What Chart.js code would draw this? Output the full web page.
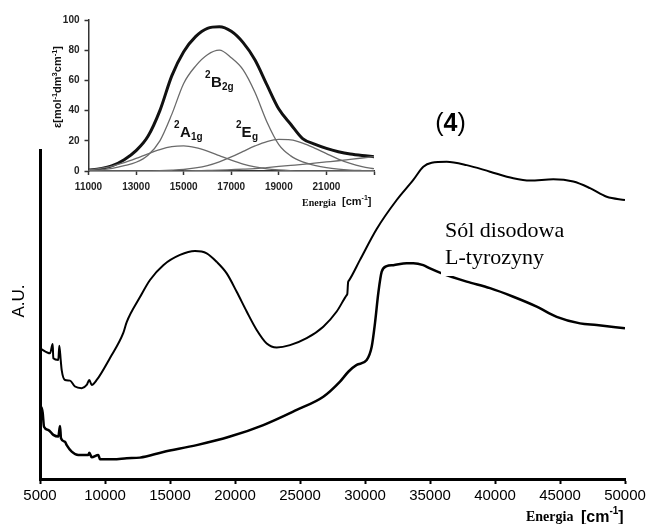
<!DOCTYPE html>
<html><head><meta charset="utf-8">
<script src="https://cdn.jsdelivr.net/npm/chart.js@4.4.1/dist/chart.umd.min.js"></script>
<style>
html,body{margin:0;padding:0;background:#fff;}
#wrap{position:relative;width:649px;height:524px;background:#fff;}
canvas{position:absolute;left:0;top:0;}
</style></head><body>
<div id="wrap"><canvas id="main" width="649" height="524"></canvas><canvas id="inset" width="649" height="524"></canvas></div>
<script>
// ---- main spectrum data (energy in cm-1, arbitrary units) ----
const upperE = [5000, 5769, 5977, 6023, 6408, 6485, 6592, 6669, 6923, 7308, 7692, 8208, 8592, 8792, 8977, 9362, 10385, 11408, 11669, 12692, 13462, 14485, 15769, 16923, 17823, 18592, 19362, 20131, 20900, 21669, 22438, 23208, 24231, 25515, 26792, 27823, 28592, 28640, 28700, 28760, 29615, 30900, 32438, 33715, 34485, 35131, 36285, 37823, 39615, 41408, 42692, 44485, 46023, 47308, 48592, 50000];
const upperV = [39.7, 38.2, 41.0, 36.7, 36.2, 40.5, 36.2, 33.1, 30.1, 29.9, 28.1, 27.6, 28.6, 30.1, 28.6, 30.1, 36.8, 44.4, 47.7, 55.3, 60.5, 65.0, 68.1, 69.3, 68.6, 66.0, 62.5, 56.9, 50.9, 45.3, 41.2, 40.0, 40.7, 42.8, 46.3, 50.9, 55.9, 56.3, 59.8, 60.3, 66.6, 76.0, 84.8, 90.9, 94.9, 96.1, 96.4, 95.4, 93.4, 91.4, 90.7, 91.1, 90.4, 88.4, 85.8, 84.8];
const lowerE = [5000, 5131, 5208, 5308, 5641, 6023, 6408, 6538, 6615, 6923, 7054, 7438, 7946, 8715, 8792, 8977, 9485, 9615, 10638, 11669, 12692, 14485, 17054, 19615, 22177, 24746, 26792, 28077, 28718, 29362, 30131, 30515, 30769, 31023, 31285, 31669, 32177, 33208, 33715, 34485, 35000, 35900, 37823, 39615, 41408, 43208, 44746, 46538, 47823, 50000];
const lowerV = [22.2, 21.5, 20.1, 15.9, 14.9, 13.4, 12.9, 16.1, 12.4, 11.3, 10.3, 8.3, 7.3, 7.3, 8.0, 6.6, 7.3, 6.0, 6.0, 6.3, 6.5, 8.2, 10.3, 12.9, 16.4, 21.0, 25.0, 29.6, 32.6, 34.7, 36.2, 40.2, 47.4, 56.5, 63.0, 64.7, 65.0, 65.6, 65.6, 65.0, 64.0, 62.5, 60.0, 58.0, 55.4, 52.4, 49.3, 47.3, 46.8, 45.8];
const mainTicks = [5000, 10000, 15000, 20000, 25000, 30000, 35000, 40000, 45000, 50000];

// ---- inset data (epsilon vs energy) ----
const insetE = [11000, 11500, 12000, 12500, 13000, 13500, 14000, 14500, 15000, 15500, 16000, 16500, 17000, 17500, 18000, 18500, 19000, 19500, 20000, 20500, 21000, 21500, 22000, 22500, 23000];
const totalEps = [0.5, 1.5, 3.5, 7.5, 13.5, 23, 40, 63, 79, 89, 94.5, 95.5, 92.5, 85, 73.5, 57, 41, 31, 21.5, 17.8, 15, 12.8, 11.2, 10.2, 9.5];
const a1gEps = [0.6, 1.8, 3.3, 5.5, 8.3, 11.4, 14.2, 16.1, 16.6, 15.5, 13.2, 10.2, 7.2, 4.6, 2.7, 1.4, 0.7, 0.3, 0.1, 0, 0, 0, 0, 0, 0];
const b2gEps = [0.3, 0.8, 1.8, 3.5, 5.8, 10.5, 20, 37.5, 58, 69.5, 77, 80, 75, 67, 52, 32.5, 17.5, 10, 6, 3.8, 2.2, 1.2, 0.6, 0.3, 0.1];
const egEps = [0, 0, 0, 0, 0, 0.1, 0.2, 0.5, 1.0, 2.0, 3.6, 6.1, 9.3, 13.0, 16.6, 19.5, 20.9, 20.6, 18.5, 15.2, 11.5, 7.9, 5.0, 2.9, 1.5];
const baseEps = [null, null, null, null, null, null, null, null, 0, 0.2, 0.4, 0.6, 0.9, 1.2, 1.6, 2.3, 3.0, 3.7, 4.4, 5.2, 6.0, 6.8, 7.7, 8.6, 9.5];
const insetXTicks = [11000, 13000, 15000, 17000, 19000, 21000, 23000];
const insetYTicks = [0, 20, 40, 60, 80, 100];

const SANS = '"Liberation Sans", Arial, sans-serif';
const SERIF = '"Liberation Serif", "Times New Roman", serif';

function pts(xs, ys) { return xs.map((x, i) => ({x: x, y: ys[i]})); }
function seq(ctx, parts, x, y) {
  let cx = x;
  for (const p of parts) {
    ctx.font = p.f;
    ctx.fillText(p.t, cx, y + (p.dy || 0));
    cx += ctx.measureText(p.t).width;
  }
  return cx;
}
function seqWidth(ctx, parts) {
  let w = 0;
  for (const p of parts) { ctx.font = p.f; w += ctx.measureText(p.t).width; }
  return w;
}

const mainText = {
  id: 'mainText',
  afterDatasetsDraw(chart) {
    const ctx = chart.ctx;
    ctx.save();
    // white box behind the sample label
    ctx.fillStyle = '#fff';
    ctx.fillRect(441, 214, 140, 62);
    ctx.fillStyle = '#000';
    ctx.textBaseline = 'alphabetic';
    ctx.textAlign = 'left';
    ctx.font = '22px ' + SERIF;
    ctx.fillText('Sól disodowa', 445, 237);
    ctx.fillText('L-tyrozyny', 445, 264);
    // (4)
    const p4 = [{t: '(', f: '25px ' + SANS}, {t: '4', f: 'bold 25px ' + SANS}, {t: ')', f: '25px ' + SANS}];
    const w4 = seqWidth(ctx, p4);
    seq(ctx, p4, 450.5 - w4 / 2, 131);
    // A.U.
    ctx.save();
    ctx.translate(19, 301);
    ctx.rotate(-Math.PI / 2);
    ctx.font = '17px ' + SANS;
    ctx.textAlign = 'center';
    ctx.textBaseline = 'middle';
    ctx.fillText('A.U.', 0, 0);
    ctx.restore();
    // Energia [cm-1]
    ctx.font = 'bold 14px ' + SERIF;
    ctx.fillText('Energia', 526, 521);
    seq(ctx, [{t: '[cm', f: 'bold 16px ' + SANS}, {t: '-1', f: 'bold 10px ' + SANS, dy: -8}, {t: ']', f: 'bold 16px ' + SANS}], 581, 522);
    ctx.restore();
  }
};

new Chart(document.getElementById('main'), {
  type: 'scatter',
  data: {
    datasets: [
      {data: pts(upperE, upperV), showLine: true, borderColor: '#000', borderWidth: 2, pointRadius: 0, cubicInterpolationMode: 'monotone'},
      {data: pts(lowerE, lowerV), showLine: true, borderColor: '#000', borderWidth: 2.5, pointRadius: 0, cubicInterpolationMode: 'monotone'}
    ]
  },
  options: {
    responsive: false, animation: false, events: [],
    plugins: {legend: {display: false}, tooltip: {enabled: false}},
    layout: {padding: {left: 0, right: 24, top: 150, bottom: 0}},
    scales: {
      x: {
        type: 'linear', min: 5000, max: 50000,
        afterBuildTicks(s) { s.ticks = mainTicks.map(v => ({value: v})); },
        ticks: {color: '#000', font: {family: SANS, size: 15}, padding: 3, maxRotation: 0, autoSkip: false, callback: v => String(v)},
        grid: {display: true, drawOnChartArea: false, drawTicks: true, tickLength: 5, tickColor: '#000', tickWidth: 2},
        border: {display: true, color: '#000', width: 3},
        afterFit(s) { s.height = 45; s.paddingLeft = 0; s.paddingRight = 0; }
      },
      y: {
        type: 'linear', min: 0, max: 100,
        ticks: {display: false},
        grid: {display: false},
        border: {display: true, color: '#000', width: 3},
        afterFit(s) { s.width = 40; s.paddingTop = 0; s.paddingBottom = 0; }
      }
    }
  },
  plugins: [mainText]
});

const insetText = {
  id: 'insetText',
  afterDraw(chart) {
    const ctx = chart.ctx;
    ctx.save();
    ctx.fillStyle = '#111';
    ctx.textAlign = 'left';
    ctx.textBaseline = 'alphabetic';
    const big = 'bold 15px ' + SANS, sm = 'bold 10px ' + SANS;
    ctx.font = sm; ctx.fillText('2', 205, 78);
    ctx.font = big; ctx.fillText('B', 211, 87);
    ctx.font = sm; ctx.fillText('2g', 222, 90);
    ctx.font = sm; ctx.fillText('2', 174, 128);
    ctx.font = big; ctx.fillText('A', 180, 137);
    ctx.font = sm; ctx.fillText('1g', 191, 140);
    ctx.font = sm; ctx.fillText('2', 236, 128);
    ctx.font = big; ctx.fillText('E', 241.5, 137);
    ctx.font = sm; ctx.fillText('g', 252, 140);
    // axis title
    ctx.save();
    ctx.translate(57, 87);
    ctx.rotate(-Math.PI / 2);
    const tf = 'bold 11px ' + SANS, sf = 'bold 7.5px ' + SANS;
    const parts = [{t: 'ε[mol', f: tf}, {t: '-1', f: sf, dy: -4}, {t: 'dm', f: tf}, {t: '3', f: sf, dy: -4}, {t: 'cm', f: tf}, {t: '-1', f: sf, dy: -4}, {t: ']', f: tf}];
    const w = seqWidth(ctx, parts);
    seq(ctx, parts, -w / 2, 4);
    ctx.restore();
    // Energia [cm-1]
    ctx.font = 'bold 10px ' + SERIF;
    ctx.fillText('Energia', 302, 206);
    seq(ctx, [{t: '[cm', f: 'bold 11px ' + SANS}, {t: '-1', f: 'bold 7px ' + SANS, dy: -5}, {t: ']', f: 'bold 11px ' + SANS}], 342, 205);
    ctx.restore();
  }
};

const thin = {showLine: true, borderColor: '#6a6a6a', borderWidth: 1.3, pointRadius: 0, cubicInterpolationMode: 'monotone', spanGaps: false};
new Chart(document.getElementById('inset'), {
  type: 'scatter',
  data: {
    datasets: [
      Object.assign({data: pts(insetE, a1gEps)}, thin),
      Object.assign({data: pts(insetE, b2gEps)}, thin),
      Object.assign({data: pts(insetE, egEps)}, thin),
      Object.assign({data: pts(insetE, baseEps)}, thin),
      {data: pts(insetE, totalEps), showLine: true, borderColor: '#111', borderWidth: 3, pointRadius: 0, cubicInterpolationMode: 'monotone'}
    ]
  },
  options: {
    responsive: false, animation: false, events: [],
    plugins: {legend: {display: false}, tooltip: {enabled: false}},
    layout: {padding: {left: 0, right: 275, top: 20, bottom: 313}},
    scales: {
      x: {
        type: 'linear', min: 11000, max: 23000,
        afterBuildTicks(s) { s.ticks = insetXTicks.map(v => ({value: v})); },
        ticks: {color: '#222', font: {family: SANS, size: 10, weight: 'bold'}, padding: 6, maxRotation: 0, autoSkip: false, callback: v => (v === 23000 ? '' : String(v))},
        grid: {display: true, drawOnChartArea: false, drawTicks: true, tickLength: 4, tickColor: '#333', tickWidth: 1.5},
        border: {display: true, color: '#333', width: 1.5},
        afterFit(s) { s.height = 40; s.paddingLeft = 0; s.paddingRight = 0; }
      },
      y: {
        type: 'linear', min: 0, max: 100,
        afterBuildTicks(s) { s.ticks = insetYTicks.map(v => ({value: v})); },
        ticks: {color: '#222', font: {family: SANS, size: 10, weight: 'bold'}, padding: 5, autoSkip: false, callback: v => String(v)},
        grid: {display: true, drawOnChartArea: false, drawTicks: true, tickLength: 4, tickColor: '#333', tickWidth: 1.5},
        border: {display: true, color: '#333', width: 1.5},
        afterFit(s) { s.width = 88.5; s.paddingTop = 0; s.paddingBottom = 0; }
      }
    }
  },
  plugins: [insetText]
});
</script>
</body></html>
